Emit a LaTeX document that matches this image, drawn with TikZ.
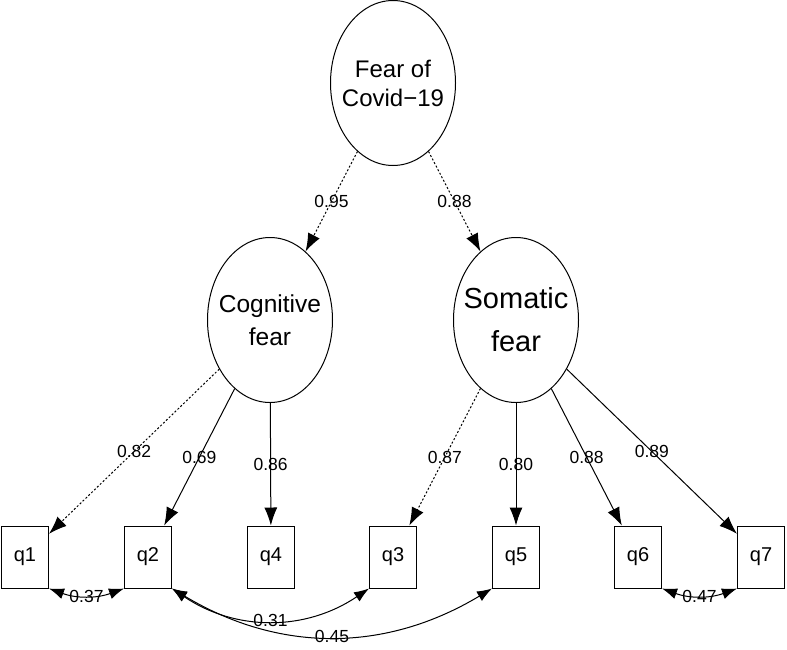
\documentclass[tikz,border=0pt]{standalone}
\usepackage{fontspec}
\setmainfont{Liberation Sans}
\usetikzlibrary{shapes.geometric,arrows.meta}

\tikzset{
	latent/.style={ellipse,draw,minimum width=125pt,minimum height=165pt,inner ysep=0pt,inner xsep=-9pt,align=center},
	item/.style={rectangle,draw,minimum width=47pt,minimum height=62pt,inner sep=0pt,font=\fontsize{20}{22}\selectfont},
	load/.style={-{Latex[length=18pt,width=13pt]}},
	weak/.style={load,dash pattern=on 2pt off 2pt},
	cov/.style={{Latex[length=15pt,width=11pt]}-{Latex[length=15pt,width=11pt]}},
	est/.style={font=\fontsize{17.5}{19}\selectfont,inner sep=0pt}
}

\begin{document}
\begin{tikzpicture}[x=1pt,y=-1pt,line width=1pt]
		\useasboundingbox (0,0) rectangle (787,649);
		
		\node[latent,font=\fontsize{24}{29}\selectfont] (fear) at (393,83) {Fear of\\Covid−19};
		\node[latent,font=\fontsize{24.5}{33}\selectfont] (cog) at (270,320) {Cognitive\\fear};
		\node[latent,font=\fontsize{29}{43}\selectfont] (som) at (516,320) {Somatic\\fear};
		
		\node[item] (q1) at (25,557) {q1};
		\node[item] (q2) at (148,557) {q2};
		\node[item] (q4) at (271,557) {q4};
		\node[item] (q3) at (393,557) {q3};
		\node[item] (q5) at (516,557) {q5};
		\node[item] (q6) at (638,557) {q6};
		\node[item] (q7) at (761,557) {q7};
		
		\draw[weak] (fear) -- node[est] {0.95} (cog);
		\draw[weak] (fear) -- node[est] {0.88} (som);
		
		\draw[weak] (cog) -- node[est] {0.82} (q1);
		\draw[load] (cog) -- node[est] {0.69} (q2);
		\draw[load] (cog) -- node[est] {0.86} (q4);
		\draw[weak] (som) -- node[est] {0.87} (q3);
		\draw[load] (som) -- node[est] {0.80} (q5);
		\draw[load] (som) -- node[est] {0.88} (q6);
		\draw[load] (som) -- node[est] {0.89} (q7);
		
		\draw[cov] (q1.south east) to[bend right=20] node[est] {0.37} (q2.south west);
		\draw[cov] (q6.south east) to[bend right=20] node[est] {0.47} (q7.south west);
		\draw[cov] (q2.south east) to[bend right=34] node[est] {0.31} (q3.south west);
		\draw[cov] (q2.south east) to[bend right=31] node[est] {0.45} (q5.south west);
	\end{tikzpicture}
\end{document}
